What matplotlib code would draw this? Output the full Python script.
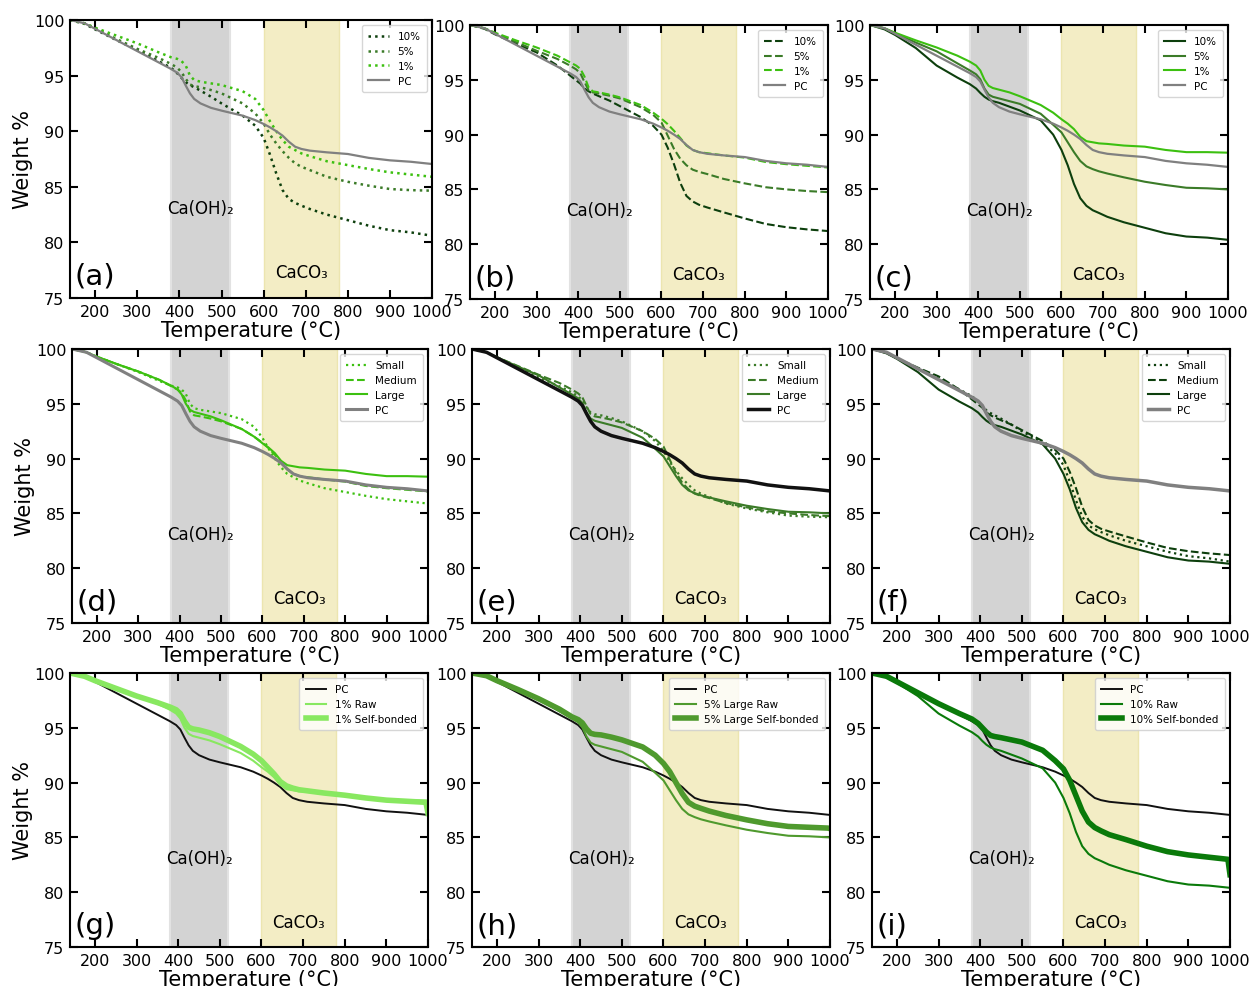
import numpy as np
import matplotlib.pyplot as plt

# temperature grid (°C) for the TGA readings
T = [140, 175, 200, 250, 300, 350, 380, 395, 405, 415, 425, 435, 450, 475, 500, 550,
     580, 600, 615, 630, 645, 660, 675, 690, 710, 750, 800, 850, 900, 950, 1000]
# self-bonded runs have a last sample dip right at the end
T_sb = [140, 175, 200, 250, 300, 350, 380, 395, 405, 415, 425, 435, 450, 475, 500, 550,
        580, 600, 615, 630, 645, 660, 675, 690, 710, 750, 800, 850, 900, 995, 1000]

pc = [100, 99.7, 99.2, 98.2, 97.2, 96.2, 95.6, 95.25, 94.85, 94.1, 93.4, 92.9, 92.5, 92.1, 91.85, 91.4,
      91.0, 90.65, 90.35, 90.0, 89.6, 89.05, 88.6, 88.4, 88.25, 88.1, 87.95, 87.6, 87.38, 87.25, 87.05]

small_1 = [100, 99.7, 99.3, 98.6, 97.9, 97.1, 96.65, 96.5, 96.3, 95.9, 95.0, 94.6, 94.45, 94.3, 94.15, 93.6,
           92.9, 91.9, 90.9, 90.0, 89.2, 88.6, 88.3, 88.0, 87.75, 87.3, 86.95, 86.6, 86.3, 86.1, 85.9]
small_5 = [100, 99.7, 99.25, 98.3, 97.4, 96.6, 96.05, 95.7, 95.3, 94.7, 94.2, 94.05, 93.95, 93.7, 93.4, 92.5,
           91.6, 90.7, 89.7, 88.9, 88.2, 87.6, 87.1, 86.8, 86.5, 85.9, 85.45, 85.1, 84.8, 84.7, 84.65]
small_10 = [100, 99.65, 99.15, 98.2, 97.3, 96.3, 95.7, 95.2, 94.8, 94.4, 94.15, 93.95, 93.65, 93.1, 92.5, 91.4,
            90.5, 89.4, 87.9, 86.2, 84.7, 83.9, 83.55, 83.3, 83.0, 82.5, 82.0, 81.5, 81.1, 80.9, 80.6]

medium_1 = [100, 99.7, 99.3, 98.6, 97.95, 97.2, 96.6, 96.3, 96.0, 95.3, 94.3, 93.95, 93.85, 93.65, 93.4, 92.7,
            92.0, 91.45, 90.95, 90.35, 89.7, 89.0, 88.6, 88.4, 88.3, 88.1, 87.9, 87.5, 87.3, 87.15, 87.0]
medium_5 = [100, 99.7, 99.25, 98.45, 97.65, 96.9, 96.3, 95.95, 95.6, 94.8, 94.05, 93.85, 93.75, 93.55, 93.3, 92.5,
            91.8, 91.1, 89.9, 88.7, 87.8, 87.2, 86.8, 86.6, 86.4, 85.95, 85.55, 85.2, 85.0, 84.85, 84.75]
medium_10 = [100, 99.65, 99.15, 98.3, 97.5, 96.3, 95.4, 94.95, 94.65, 94.2, 93.95, 93.75, 93.5, 93.1, 92.6, 91.6,
             90.8, 90.0, 88.8, 87.3, 85.6, 84.4, 83.9, 83.6, 83.35, 82.9, 82.35, 81.85, 81.55, 81.35, 81.2]

large_1 = [100, 99.7, 99.3, 98.6, 97.95, 97.2, 96.65, 96.3, 95.85, 95.0, 94.45, 94.25, 94.1, 93.85, 93.5, 92.7,
           92.0, 91.4, 91.0, 90.5, 89.8, 89.4, 89.3, 89.2, 89.15, 89.0, 88.9, 88.6, 88.4, 88.4, 88.35]
large_5 = [100, 99.7, 99.25, 98.4, 97.6, 96.5, 95.85, 95.5, 95.05, 94.2, 93.65, 93.45, 93.3, 93.05, 92.8, 91.9,
           90.9, 90.2, 89.3, 88.4, 87.6, 87.1, 86.85, 86.65, 86.45, 86.1, 85.7, 85.4, 85.15, 85.1, 85.0]
large_10 = [100, 99.6, 99.1, 97.9, 96.3, 95.2, 94.6, 94.2, 93.8, 93.45, 93.2, 93.05, 92.9, 92.55, 92.2, 91.3,
            90.0, 88.6, 87.2, 85.5, 84.2, 83.5, 83.1, 82.85, 82.5, 82.0, 81.5, 81.0, 80.7, 80.6, 80.4]

sb_1 = [100, 99.7, 99.3, 98.6, 97.9, 97.3, 96.9, 96.65, 96.3, 95.6, 95.05, 94.9, 94.8, 94.55, 94.2, 93.3,
        92.6, 92.0, 91.4, 90.8, 90.1, 89.7, 89.5, 89.35, 89.25, 89.05, 88.85, 88.6, 88.4, 88.2, 87.2]
sb_5 = [100, 99.75, 99.3, 98.5, 97.65, 96.7, 96.0, 95.75, 95.45, 94.9, 94.5, 94.4, 94.35, 94.15, 93.9, 93.25,
        92.5, 91.75, 91.0, 90.0, 89.0, 88.2, 87.85, 87.65, 87.4, 87.0, 86.6, 86.25, 86.0, 85.85, 85.8]
sb_10 = [100, 99.7, 99.2, 98.2, 97.2, 96.3, 95.8, 95.4, 95.0, 94.6, 94.3, 94.2, 94.1, 93.9, 93.7, 92.95,
         92.0, 91.25, 90.2, 88.8, 87.4, 86.4, 85.9, 85.6, 85.25, 84.8, 84.2, 83.7, 83.4, 83.0, 81.6]

c10 = '#0d3f0d'
c5 = '#3b7b28'
c1 = '#3cc010'
grey = '#808080'

W, H = 1252, 987
# axes boxes in pixels: left, top, right, bottom
boxes = [
    (70, 21, 432, 299), (470, 26, 828, 300), (870, 26, 1228, 300),
    (72, 350, 428, 624), (472, 350, 830, 624), (872, 350, 1230, 624),
    (70, 674, 428, 948), (472, 674, 830, 948), (872, 674, 1230, 948),
]

fig = plt.figure(figsize=(W / 100, H / 100), dpi=100)
axes = []
for l, t, r, b in boxes:
    axes.append(fig.add_axes([l / W, 1 - b / H, (r - l) / W, (b - t) / H]))


def style(ax, tag, ylabel):
    ax.axvspan(380, 520, facecolor='#d3d3d3', edgecolor='#e2e2e2', lw=1.5, zorder=0)
    ax.axvspan(600, 780, facecolor='#f3edc5', edgecolor='#ece5b0', lw=1, zorder=0)
    ax.text(450, 83.1, 'Ca(OH)₂', ha='center', va='center', fontsize=12)
    ax.text(690, 77.3, 'CaCO₃', ha='center', va='center', fontsize=12)
    ax.text(150, 77.0, tag, ha='left', va='center', fontsize=21)
    ax.set_xlim(140, 1000)
    ax.set_ylim(75, 100)
    ax.set_xticks(np.arange(200, 1001, 100))
    ax.set_yticks(np.arange(75, 101, 5))
    ax.tick_params(direction='in', top=True, right=True, length=6, width=1.5,
                   labelsize=11.5, pad=4)
    for s in ax.spines.values():
        s.set_linewidth(1.5)
    ax.set_xlabel('Temperature (°C)', fontsize=15, labelpad=1)
    if ylabel:
        ax.set_ylabel('Weight %', fontsize=15, labelpad=1)
    ax.legend(loc='upper right', fontsize=7.5, handlelength=2.0, borderpad=0.6,
              labelspacing=0.45)


# (a)-(c): loading series for each particle size
for ax, (s10, s5, s1), ls, tag in zip(
        axes[:3],
        [(small_10, small_5, small_1), (medium_10, medium_5, medium_1),
         (large_10, large_5, large_1)],
        [':', '--', '-'], ['(a)', '(b)', '(c)']):
    lw = 1.8 if ls == ':' else 1.5
    ax.plot(T, s10, ls=ls, color=c10, lw=lw, label='10%')
    ax.plot(T, s5, ls=ls, color=c5, lw=lw, label='5%')
    ax.plot(T, s1, ls=ls, color=c1, lw=lw, label='1%')
    ax.plot(T, pc, color=grey, lw=1.6, label='PC')
    style(ax, tag, tag == '(a)')

# (d)-(f): particle size series at fixed loading
pc_styles = [(grey, 2.2), ('#111111', 2.5), (grey, 2.5)]
for ax, (sm, md, lg), col, (pcc, pcw), tag in zip(
        axes[3:6],
        [(small_1, medium_1, large_1), (small_5, medium_5, large_5),
         (small_10, medium_10, large_10)],
        [c1, c5, c10], pc_styles, ['(d)', '(e)', '(f)']):
    ax.plot(T, sm, ls=':', color=col, lw=1.6, label='Small')
    ax.plot(T, md, ls='--', color=col, lw=1.5, label='Medium')
    ax.plot(T, lg, ls='-', color=col, lw=1.5, label='Large')
    ax.plot(T, pc, color=pcc, lw=pcw, label='PC')
    style(ax, tag, tag == '(d)')

# (g)-(i): raw vs self-bonded
for ax, raw, sb, col, name, tag in zip(
        axes[6:],
        [large_1, large_5, large_10], [sb_1, sb_5, sb_10],
        ['#88e860', '#4f9a2e', '#0a7a0a'],
        ['1%', '5% Large', '10%'], ['(g)', '(h)', '(i)']):
    ax.plot(T, pc, color='#111111', lw=1.4, label='PC')
    ax.plot(T, raw, color=col, lw=1.5, label=f'{name} Raw')
    ax.plot(T_sb, sb, color=col, lw=4, label=f'{name} Self-bonded')
    style(ax, tag, tag == '(g)')

fig.savefig('out.png', dpi=100)
plt.close(fig)
